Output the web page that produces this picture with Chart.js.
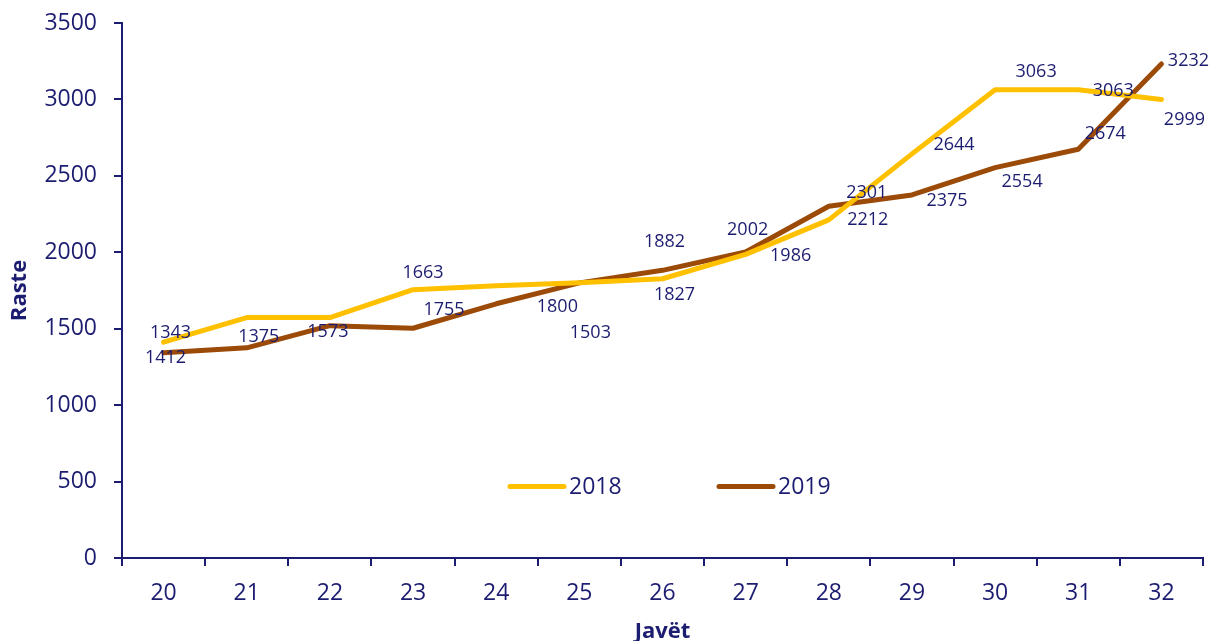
<!DOCTYPE html>
<html>
<head>
<meta charset="utf-8">
<script src="https://cdn.jsdelivr.net/npm/chart.js@4"></script>
<style>
html,body{margin:0;padding:0;background:#ffffff;}
#wrap{width:1211px;height:641px;}
</style>
</head>
<body>
<div id="wrap"><canvas id="c" width="1211" height="641"></canvas></div>
<script>
// ---- data ----
const weeks = ['20','21','22','23','24','25','26','27','28','29','30','31','32'];
const cases2018 = [1412, 1573, 1573, 1755, 1781, 1800, 1827, 1986, 2212, 2644, 3063, 3063, 2999];
const cases2019 = [1343, 1375, 1520, 1503, 1663, 1800, 1882, 2002, 2301, 2375, 2554, 2674, 3232];
const labels2018 = ['1343', null, null, '1663', null, '1800', '1827', '1986', '2212', '2644', '3063', '3063', '2999'];
const labels2019 = ['1412', '1375', '1573', '1755', null, '1503', '1882', '2002', '2301', '2375', '2554', '2674', '3232'];
const yTicks = [0, 500, 1000, 1500, 2000, 2500, 3000, 3500];
const seriesNames = ['2018', '2019'];

// ---- styling / label placement (not data) ----
const NAVY = '#1c1c70';
const YELLOW = '#FFC000';
const BROWN = '#9C4A08';
const FONT = "'Open Sans', 'DejaVu Sans', sans-serif";
const labelOffsets2018 = [[7,-9],null,null,[10,-17],null,[-22,24],[12,16],[45,1],[39,0],[42,-9],[41,-18],[35,1],[23,20]];
const labelOffsets2019 = [[2,5],[12,-11],[-2,6],[31,-18],null,[11,50],[2,-28],[2,-22],[38,-13],[35,6],[27,14],[27,-15],[27,-3]];

const pointLabelPlugin = {
  id: 'pointLabels',
  afterDatasetsDraw(chart) {
    const ctx = chart.ctx;
    const sets = [[labels2018, labelOffsets2018], [labels2019, labelOffsets2019]];
    ctx.save();
    ctx.font = '18px ' + FONT;
    ctx.fillStyle = NAVY;
    ctx.textAlign = 'center';
    ctx.textBaseline = 'middle';
    sets.forEach(([texts, offs], i) => {
      const meta = chart.getDatasetMeta(i);
      meta.data.forEach((pt, j) => {
        const t = texts[j];
        if (!t) return;
        const o = offs[j] || [0, 0];
        ctx.fillText(t, pt.x + o[0], pt.y + o[1]);
      });
    });
    ctx.restore();
  }
};

const legendPlugin = {
  id: 'innerLegend',
  afterDraw(chart) {
    const ctx = chart.ctx;
    const a = chart.chartArea;
    const y = a.bottom - 71.5;
    ctx.save();
    chart.data.datasets.forEach((ds, i) => {
      const x0 = a.left + 388 + i * 209;
      ctx.strokeStyle = ds.borderColor;
      ctx.lineWidth = 5;
      ctx.lineCap = 'round';
      ctx.beginPath();
      ctx.moveTo(x0, y);
      ctx.lineTo(x0 + 54, y);
      ctx.stroke();
      ctx.fillStyle = NAVY;
      ctx.font = '23px ' + FONT;
      ctx.textAlign = 'left';
      ctx.textBaseline = 'middle';
      ctx.fillText(ds.label, x0 + 59, y + 1);
    });
    ctx.restore();
  }
};

new Chart(document.getElementById('c'), {
  type: 'line',
  data: {
    labels: weeks,
    datasets: [
      { label: seriesNames[0], data: cases2018, borderColor: YELLOW, backgroundColor: YELLOW,
        borderWidth: 5, pointRadius: 0, tension: 0, borderCapStyle: 'round', borderJoinStyle: 'round' },
      { label: seriesNames[1], data: cases2019, borderColor: BROWN, backgroundColor: BROWN,
        borderWidth: 5, pointRadius: 0, tension: 0, borderCapStyle: 'round', borderJoinStyle: 'round' }
    ]
  },
  options: {
    responsive: false,
    animation: false,
    devicePixelRatio: 1,
    layout: { padding: { top: 23, right: 8, bottom: 0, left: 0 } },
    plugins: { legend: { display: false }, tooltip: { enabled: false } },
    scales: {
      x: {
        offset: true,
        grid: { offset: true, drawOnChartArea: false, drawTicks: true, tickLength: 8, color: NAVY, lineWidth: 2 },
        border: { display: true, color: NAVY, width: 2 },
        ticks: { color: NAVY, font: { family: FONT, size: 23 }, padding: 13.5, maxRotation: 0, autoSkip: false },
        title: { display: true, text: 'Javët', color: NAVY, font: { family: FONT, size: 22, weight: 'bold', lineHeight: 0.85 }, padding: 0 },
        afterFit(s) { s.height = 83; s.paddingLeft = 0; s.paddingRight = 0; }
      },
      y: {
        min: 0, max: 3500,
        afterBuildTicks(s) { s.ticks = yTicks.map(v => ({ value: v })); },
        grid: { drawOnChartArea: false, drawTicks: true, tickLength: 8, color: NAVY, lineWidth: 2 },
        border: { display: true, color: NAVY, width: 2 },
        ticks: { color: NAVY, font: { family: FONT, size: 23 }, padding: 17, callback: v => String(v) },
        title: { display: true, text: 'Raste', color: NAVY, font: { family: FONT, size: 22, weight: 'bold' }, padding: { top: 7, bottom: 0 } },
        afterFit(s) { s.width = 122; s.paddingTop = 0; s.paddingBottom = 0; }
      }
    }
  },
  plugins: [pointLabelPlugin, legendPlugin]
});
</script>
</body>
</html>
